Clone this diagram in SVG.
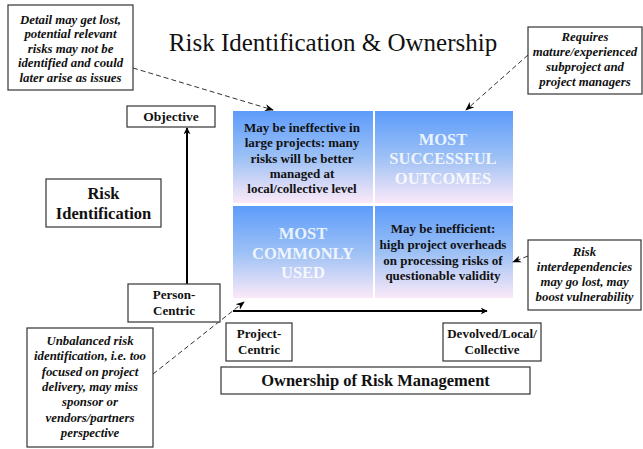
<svg xmlns="http://www.w3.org/2000/svg" width="643" height="449" viewBox="0 0 643 449">
<defs>
<linearGradient id="qg" x1="0" y1="0" x2="0" y2="1">
<stop offset="0" stop-color="#5d9cfb"/>
<stop offset="0.5" stop-color="#9cc0f5"/>
<stop offset="1" stop-color="#fbe9f8"/>
</linearGradient>
<marker id="ah" viewBox="0 0 10 10" refX="9" refY="5" markerWidth="7" markerHeight="7" orient="auto" markerUnits="userSpaceOnUse">
<path d="M0,0 L10,5 L0,10 L3,5 Z" fill="#000"/>
</marker>
<marker id="ahs" viewBox="0 0 10 10" refX="9" refY="5" markerWidth="9" markerHeight="9" orient="auto" markerUnits="userSpaceOnUse">
<path d="M0,1 L10,5 L0,9 L3,5 Z" fill="#000"/>
</marker>
</defs>
<style>
.box{fill:#fff;stroke:#333;stroke-width:1.2}
.t{text-anchor:middle;fill:#111}
.w{fill:#fff;fill-opacity:0.85}
.dash{fill:none;stroke:#333;stroke-width:1;stroke-dasharray:5,3}
.axis{stroke:#000;stroke-width:2;fill:none}
</style>
<rect width="643" height="449" fill="#fff"/>
<text class="t" x="333" y="51" font-size="25" font-family="Liberation Serif, serif">Risk Identification &amp; Ownership</text>

<g id="quadrants">
<rect x="233" y="111" width="140" height="92" fill="url(#qg)"/>
<rect x="375" y="111" width="138" height="92" fill="url(#qg)"/>
<rect x="233" y="206" width="140" height="92" fill="url(#qg)"/>
<rect x="375" y="206" width="138" height="92" fill="url(#qg)"/>
</g>
<g id="q-top-left">
<text class="t" font-family="Liberation Serif, serif" font-weight="bold" font-size="13"><tspan x="302" y="132">May be ineffective in</tspan><tspan x="302" y="147">large projects: many</tspan><tspan x="302" y="163">risks will be better</tspan><tspan x="302" y="178">managed at</tspan><tspan x="302" y="193">local/collective level</tspan></text>
</g>
<g id="q-top-right">
<text class="t w" font-family="Liberation Serif, serif" font-weight="bold" font-size="16.5"><tspan x="443" y="145">MOST</tspan><tspan x="443" y="164">SUCCESSFUL</tspan><tspan x="443" y="184">OUTCOMES</tspan></text>
</g>
<g id="q-bottom-left">
<text class="t w" font-family="Liberation Serif, serif" font-weight="bold" font-size="16.5"><tspan x="303" y="239">MOST</tspan><tspan x="303" y="259">COMMONLY</tspan><tspan x="303" y="278">USED</tspan></text>
</g>
<g id="q-bottom-right">
<text class="t" font-family="Liberation Serif, serif" font-weight="bold" font-size="13"><tspan x="443" y="233">May be inefficient:</tspan><tspan x="443" y="249">high project overheads</tspan><tspan x="443" y="265">on processing risks of</tspan><tspan x="443" y="280">questionable validity</tspan></text>
</g>

<g id="connectors">
<line class="axis" x1="187" y1="285" x2="187" y2="128" marker-end="url(#ah)"/>
<line class="axis" x1="233" y1="311" x2="487" y2="311" marker-end="url(#ah)"/>
<line class="dash" x1="133" y1="68" x2="273" y2="110" marker-end="url(#ahs)"/>
<line class="dash" x1="528" y1="55" x2="466" y2="110" marker-end="url(#ahs)"/>
<line class="dash" x1="528" y1="256" x2="513" y2="262" marker-end="url(#ahs)"/>
<line class="dash" x1="153" y1="374" x2="244" y2="302" marker-end="url(#ahs)"/>
</g>

<g id="objective">
<rect class="box" x="127" y="106" width="88" height="21"/>
<text class="t" x="171" y="121" font-size="13.5" font-weight="bold" font-family="Liberation Serif, serif">Objective</text>
</g>
<g id="person-centric">
<rect class="box" x="128" y="284" width="92" height="38"/>
<text class="t" font-size="13" font-weight="bold" font-family="Liberation Serif, serif"><tspan x="174" y="299">Person-</tspan><tspan x="174" y="315">Centric</tspan></text>
</g>
<g id="risk-identification">
<rect class="box" x="46" y="179" width="115" height="48"/>
<text class="t" font-size="16.5" font-weight="bold" font-family="Liberation Serif, serif"><tspan x="103.5" y="199">Risk</tspan><tspan x="103.5" y="219">Identification</tspan></text>
</g>
<g id="project-centric">
<rect class="box" x="226" y="323" width="66" height="38"/>
<text class="t" font-size="13" font-weight="bold" font-family="Liberation Serif, serif"><tspan x="259" y="338">Project-</tspan><tspan x="259" y="354">Centric</tspan></text>
</g>
<g id="devolved">
<rect class="box" x="443" y="323" width="98" height="38"/>
<text class="t" font-size="13" font-weight="bold" font-family="Liberation Serif, serif"><tspan x="492" y="338">Devolved/Local/</tspan><tspan x="492" y="354">Collective</tspan></text>
</g>
<g id="ownership">
<rect class="box" x="221" y="367" width="309" height="27"/>
<text class="t" x="375.5" y="386" font-size="16.5" font-weight="bold" font-family="Liberation Serif, serif">Ownership of Risk Management</text>
</g>

<g id="callout-detail">
<rect class="box" x="8" y="5" width="125" height="85"/>
<text class="t" font-family="Liberation Serif, serif" font-weight="bold" font-style="italic" font-size="12.8"><tspan x="70.5" y="24">Detail may get lost,</tspan><tspan x="70.5" y="38">potential relevant</tspan><tspan x="70.5" y="53">risks may not be</tspan><tspan x="70.5" y="67">identified and could</tspan><tspan x="70.5" y="82">later arise as issues</tspan></text>
</g>
<g id="callout-requires">
<rect class="box" x="528" y="27" width="114" height="67"/>
<text class="t" font-family="Liberation Serif, serif" font-weight="bold" font-style="italic" font-size="12.8"><tspan x="585" y="41">Requires</tspan><tspan x="585" y="56">mature/experienced</tspan><tspan x="585" y="71">subproject and</tspan><tspan x="585" y="86">project managers</tspan></text>
</g>
<g id="callout-interdependencies">
<rect class="box" x="528" y="240" width="113" height="70"/>
<text class="t" font-family="Liberation Serif, serif" font-weight="bold" font-style="italic" font-size="12.8"><tspan x="584.5" y="256">Risk</tspan><tspan x="584.5" y="271">interdependencies</tspan><tspan x="584.5" y="286">may go lost, may</tspan><tspan x="584.5" y="301">boost vulnerability</tspan></text>
</g>
<g id="callout-unbalanced">
<rect class="box" x="27" y="328" width="126" height="119"/>
<text class="t" font-family="Liberation Serif, serif" font-weight="bold" font-style="italic" font-size="12.8"><tspan x="90" y="345">Unbalanced risk</tspan><tspan x="90" y="360">identification, i.e. too</tspan><tspan x="90" y="376">focused on project</tspan><tspan x="90" y="391">delivery, may miss</tspan><tspan x="90" y="406">sponsor or</tspan><tspan x="90" y="422">vendors/partners</tspan><tspan x="90" y="437">perspective</tspan></text>
</g>
</svg>
